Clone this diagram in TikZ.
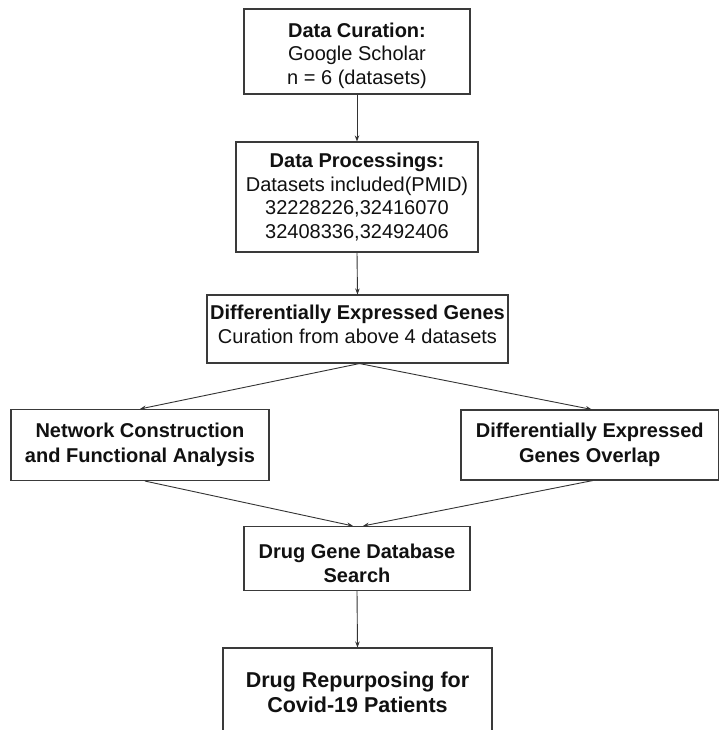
\documentclass[tikz,border=0pt]{standalone}
\usepackage{fontspec}
\setmainfont{Liberation Sans}
\usetikzlibrary{arrows.meta}
\definecolor{boxgray}{HTML}{3A3A3A}
\definecolor{linegray}{HTML}{333333}
\definecolor{txt}{HTML}{111111}
\begin{document}
\begin{tikzpicture}[x=1pt,y=-1pt,
  box/.style={draw=boxgray, line width=1.1pt, align=center, inner sep=0pt,
    font=\fontsize{20}{23.7}\selectfont, text=txt},
  boldbox/.style={box, font=\fontsize{20}{24.5}\selectfont\bfseries},
  bigbox/.style={box, font=\fontsize{21.5}{25}\selectfont\bfseries},
  arr/.style={draw=linegray, line width=0.9pt, -{Stealth[length=6pt,width=4.5pt]}}]
\useasboundingbox (0,0) rectangle (719,730);
\fill[white] (0,0) rectangle (719,730);

\node[box, minimum width=226pt, minimum height=85pt] (b1) at (357,51.5)
  {\rule{0pt}{23pt}\textbf{Data Curation:}\\Google Scholar\\n = 6 (datasets)};
\node[box, minimum width=242pt, minimum height=110pt] (b2) at (357,197)
  {\textbf{Data Processings:}\\Datasets included(PMID)\\32228226,32416070\\32408336,32492406};
\node[box, minimum width=301pt, minimum height=68pt] (b3) at (357.5,329)
  {\textbf{Differentially Expressed Genes}\\Curation from above 4 datasets\rule[-10pt]{0pt}{10pt}};
\node[boldbox, minimum width=258pt, minimum height=71pt] (b4) at (140,445)
  {Network Construction\\and Functional Analysis};
\node[boldbox, minimum width=257.5pt, minimum height=70pt] (b5) at (589.75,445)
  {Differentially Expressed\\Genes Overlap};
\node[boldbox, minimum width=226pt, minimum height=64pt] (b6) at (357,558.5)
  {\rule{0pt}{24.6pt}Drug Gene Database\\Search};
\node[bigbox, minimum width=269pt, minimum height=88pt] (b7) at (357.5,692)
  {Drug Repurposing for\\Covid-19 Patients};

\draw[arr] (b1.south) -- (b2.north);
\draw[arr] (b2.south) -- (b3.north);
\draw[arr] ([xshift=2pt]b3.south) -- (b4.north);
\draw[arr] ([xshift=2pt]b3.south) -- ([xshift=2pt]b5.north);
\draw[arr] ([xshift=5pt]b4.south) -- ([xshift=-4pt]b6.north);
\draw[arr] ([xshift=3pt]b5.south) -- ([xshift=6pt]b6.north);
\draw[arr] (b6.south) -- (b7.north);
\end{tikzpicture}
\end{document}
